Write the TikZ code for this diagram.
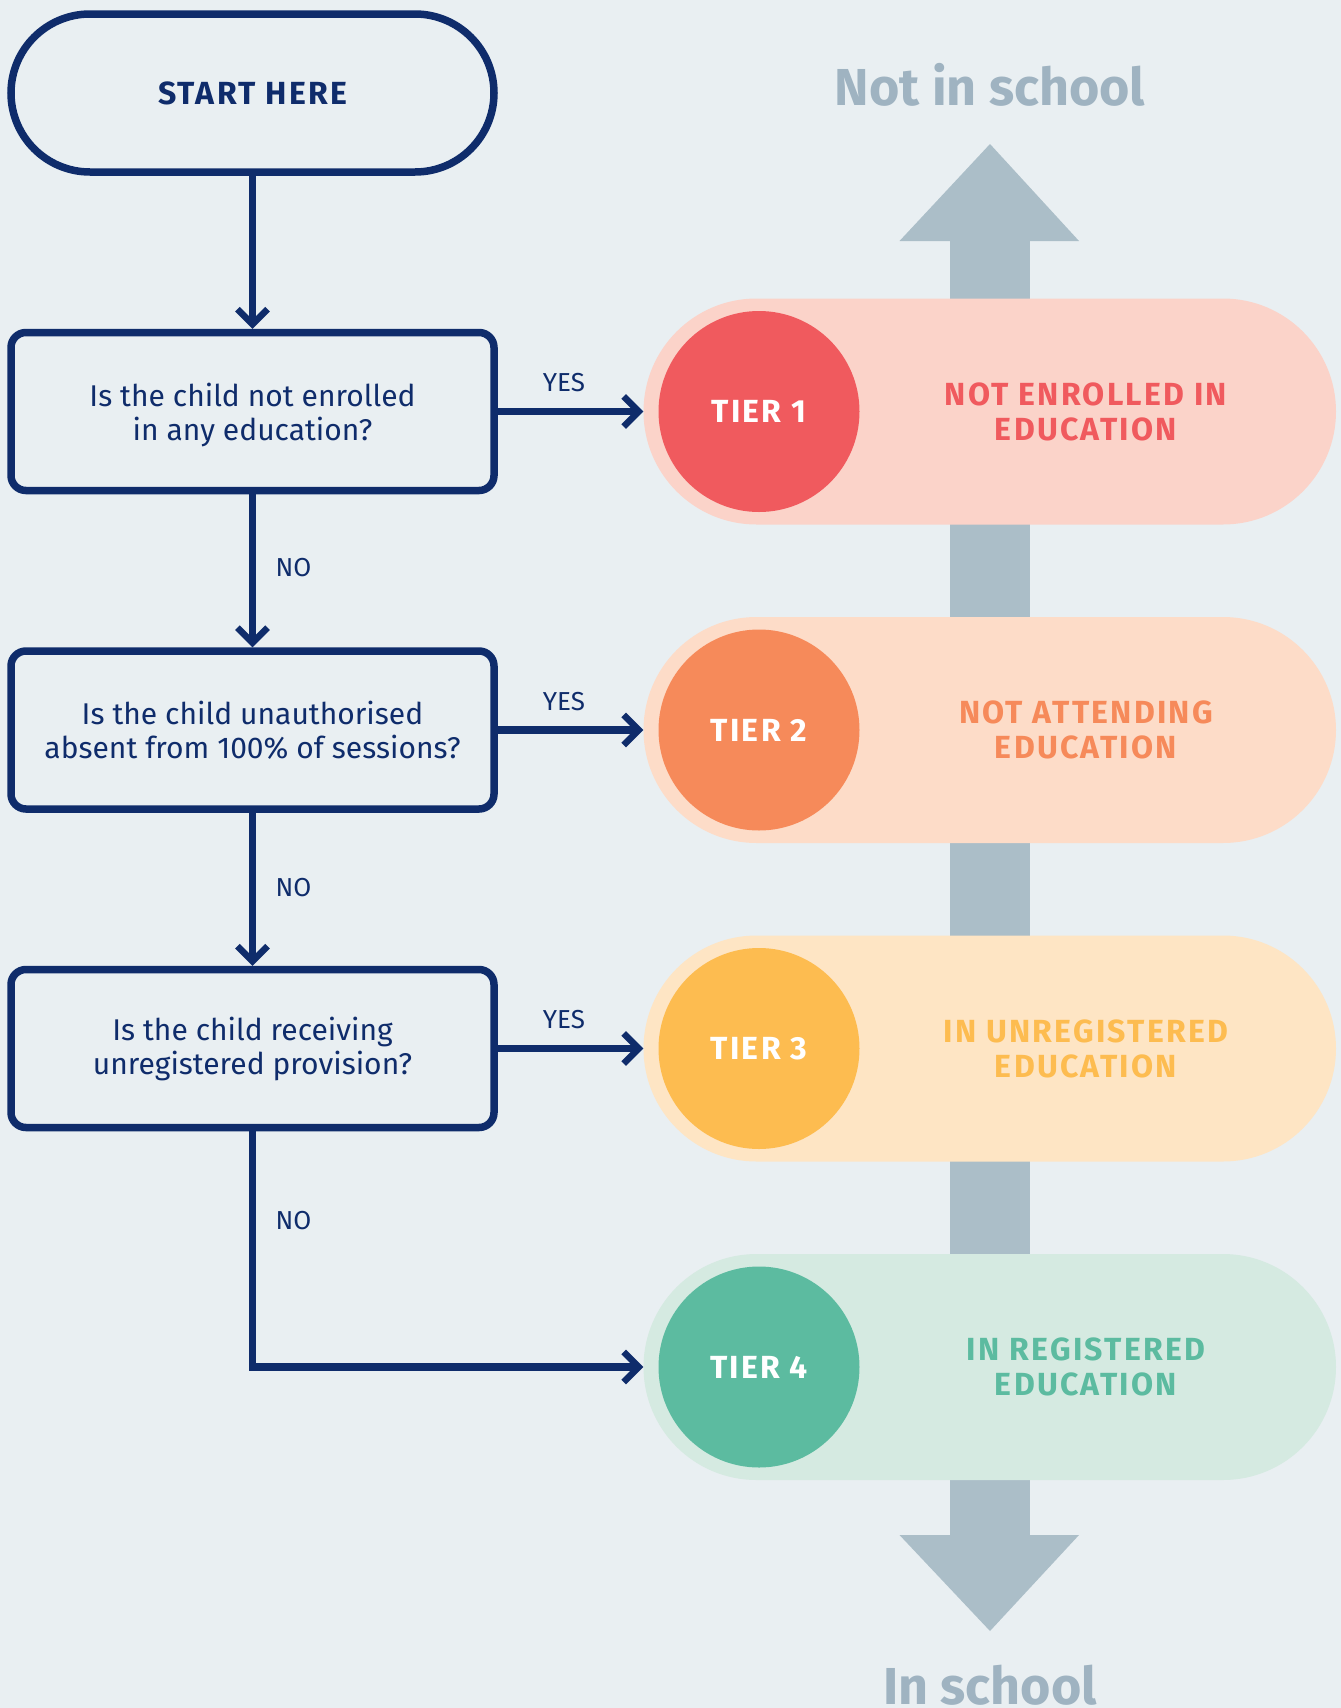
\documentclass[tikz,border=0pt]{standalone}
\usepackage{fontspec}
\setmainfont{Fira Sans}
\newfontfamily\tierfont{Fira Sans}[LetterSpace=7]
\usetikzlibrary{arrows.meta}
\definecolor{bg}{HTML}{E9EFF2}
\definecolor{navy}{HTML}{0F2C6B}
\definecolor{garrow}{HTML}{ABBEC8}
\definecolor{gtext}{HTML}{9FB3C1}
\definecolor{tA}{HTML}{F05A5E}
\definecolor{pA}{HTML}{FBD3C9}
\definecolor{tB}{HTML}{F68A5A}
\definecolor{pB}{HTML}{FDDCC8}
\definecolor{tC}{HTML}{FDBC50}
\definecolor{pC}{HTML}{FEE5C4}
\definecolor{tD}{HTML}{5CBBA0}
\definecolor{pD}{HTML}{D5EAE1}
\begin{document}
\begin{tikzpicture}[x=1pt,y=-1pt,
  flowbox/.style={draw=navy, line width=7.5pt, rounded corners=15pt,
    minimum width=483pt, minimum height=158pt, inner sep=0pt, align=center,
    text=navy, font=\fontsize{30}{34}\selectfont},
  termbox/.style={flowbox, rounded corners=79pt, font=\fontsize{32}{34}\selectfont\tierfont\bfseries},
  conn/.style={draw=navy, line width=7.5pt,
    -{Straight Barb[length=15pt, width=30pt, line width=6.5pt]}},
  lbl/.style={text=navy, font=\fontsize{26}{26}\selectfont, inner sep=0pt},
  pill/.style={rounded corners=113pt, minimum width=692.5pt, minimum height=226pt, inner sep=0pt},
  tiercirc/.style={circle, minimum size=201pt, inner sep=0pt, text=white,
    font=\fontsize{32}{32}\selectfont\tierfont\bfseries},
  tiertext/.style={align=center, inner sep=0pt,
    font=\fontsize{32}{35}\selectfont\tierfont\bfseries},
  bigtext/.style={anchor=base, text=gtext, inner sep=0pt,
    font=\fontsize{52}{52}\selectfont\bfseries}
]
\useasboundingbox (0,0) rectangle (1341,1708);
\fill[bg] (0,0) rectangle (1341,1708);

% gray scale arrow
\fill[garrow] (950,241) rectangle (1029.5,1535);
\fill[garrow] (899.5,241) -- (990,144) -- (1079,241) -- cycle;
\fill[garrow] (899.5,1535) -- (990,1631) -- (1079,1535) -- cycle;
\node[bigtext] (notin) at (990,105) {Not in school};
\node[bigtext] (inschool) at (990,1704) {In school};

% pills
\node[pill, fill=pA] (p1) at (989.75,411.5) {};
\node[pill, fill=pB] (p2) at (989.75,730) {};
\node[pill, fill=pC] (p3) at (989.75,1048.5) {};
\node[pill, fill=pD] (p4) at (989.75,1367) {};

\node[tiercirc, fill=tA] (c1) at (759,411.5) {TIER 1};
\node[tiercirc, fill=tB] (c2) at (759,730) {TIER 2};
\node[tiercirc, fill=tC] (c3) at (759,1048.5) {TIER 3};
\node[tiercirc, fill=tD] (c4) at (759,1367) {TIER 4};

\node[tiertext, text=tA] (d1) at (1086,411.5) {NOT ENROLLED IN\\EDUCATION};
\node[tiertext, text=tB] (d2) at (1086,730) {NOT ATTENDING\\EDUCATION};
\node[tiertext, text=tC] (d3) at (1086,1048.5) {IN UNREGISTERED\\EDUCATION};
\node[tiertext, text=tD] (d4) at (1086,1367) {IN REGISTERED\\EDUCATION};

% flow
\node[termbox] (start) at (252.5,93) {START HERE};
\node[flowbox, text depth=0pt] (q1) at (252.5,411.5) {Is the child not enrolled\\in any education?};
\node[flowbox] (q2) at (252.5,730) {Is the child unauthorised\\absent from 100\% of sessions?};
\node[flowbox] (q3) at (252.5,1048.5) {Is the child receiving\\unregistered provision?};

\draw[conn] (start.south) -- (q1.north);
\draw[conn] (q1.south) -- (q2.north);
\draw[conn] (q2.south) -- (q3.north);
\draw[conn] (q3.south) |- (p4.west);
\draw[conn] (q1.east) -- (p1.west);
\draw[conn] (q2.east) -- (p2.west);
\draw[conn] (q3.east) -- (p3.west);

\node[lbl] (y1) at (564,383) {YES};
\node[lbl] (y2) at (564,701.5) {YES};
\node[lbl] (y3) at (564,1020) {YES};
\node[lbl] (n1) at (293.5,567.6) {NO};
\node[lbl] (n2) at (293.5,888) {NO};
\node[lbl] (n3) at (293.5,1221) {NO};
\end{tikzpicture}
\end{document}
